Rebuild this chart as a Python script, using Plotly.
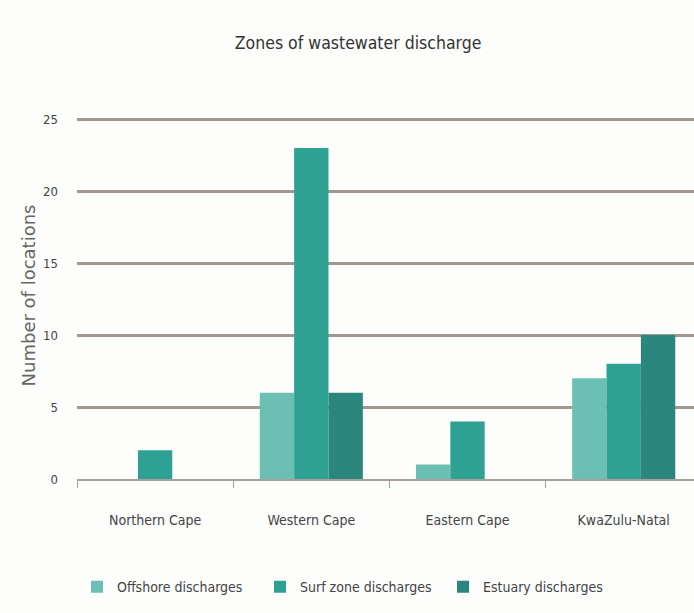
import plotly.graph_objects as go

# Wastewater discharge locations per coastal province
provinces = ["Northern Cape", "Western Cape", "Eastern Cape", "KwaZulu-Natal"]
offshore = [0, 6, 1, 7]
surf_zone = [2, 23, 4, 8]
estuary = [0, 6, 0, 10]

series_names = ["Offshore discharges", "Surf zone discharges", "Estuary discharges"]
series_colors = ["#6bbfb3", "#2fa193", "#2b877e"]

FONT = "DejaVu Sans Condensed, Liberation Sans, sans-serif"

fig = go.Figure()
for name, vals, col in zip(series_names, [offshore, surf_zone, estuary], series_colors):
    fig.add_trace(go.Bar(
        x=provinces, y=vals, name=name,
        marker=dict(color=col, line=dict(width=0)),
    ))

fig.update_layout(
    width=694, height=613,
    margin=dict(l=77, r=0, t=112, b=134),
    paper_bgcolor="#fdfdfc", plot_bgcolor="#fdfdfc",
    barmode="group", bargap=0.34, bargroupgap=0,
    title=dict(
        text="Zones of wastewater discharge",
        x=0.516, xanchor="center", y=0.93, yanchor="middle",
        font=dict(family=FONT, size=17.5, color="#333333"),
    ),
    font=dict(family=FONT, color="#444444"),
    legend=dict(
        orientation="h", x=0.0, xanchor="left", y=-0.295, yanchor="middle",
        font=dict(family=FONT, size=14, color="#444444"),
        entrywidth=138, entrywidthmode="pixels",
        itemwidth=30, bgcolor="rgba(0,0,0,0)",
    ),
)

fig.update_xaxes(
    range=[-0.5, 3.45],
    showgrid=False,
    showline=True, linecolor="#a8a09a", linewidth=2,
    ticks="outside", tickson="boundaries", ticklen=7, tickcolor="#a8a09a",
    tickfont=dict(family=FONT, size=14, color="#444444"),
    ticklabelstandoff=27,
)
fig.update_yaxes(
    range=[0, 25.5],
    tickvals=[0, 5, 10, 15, 20, 25],
    showgrid=True, gridcolor="#a39890", gridwidth=3,
    zeroline=False, showline=False,
    tickfont=dict(family=FONT, size=13, color="#444444"),
    ticklabelstandoff=18,
    title=dict(text="Number of locations",
               font=dict(family="DejaVu Sans", size=18, color="#666666"),
               standoff=2),
)

fig.write_html("out.html")
